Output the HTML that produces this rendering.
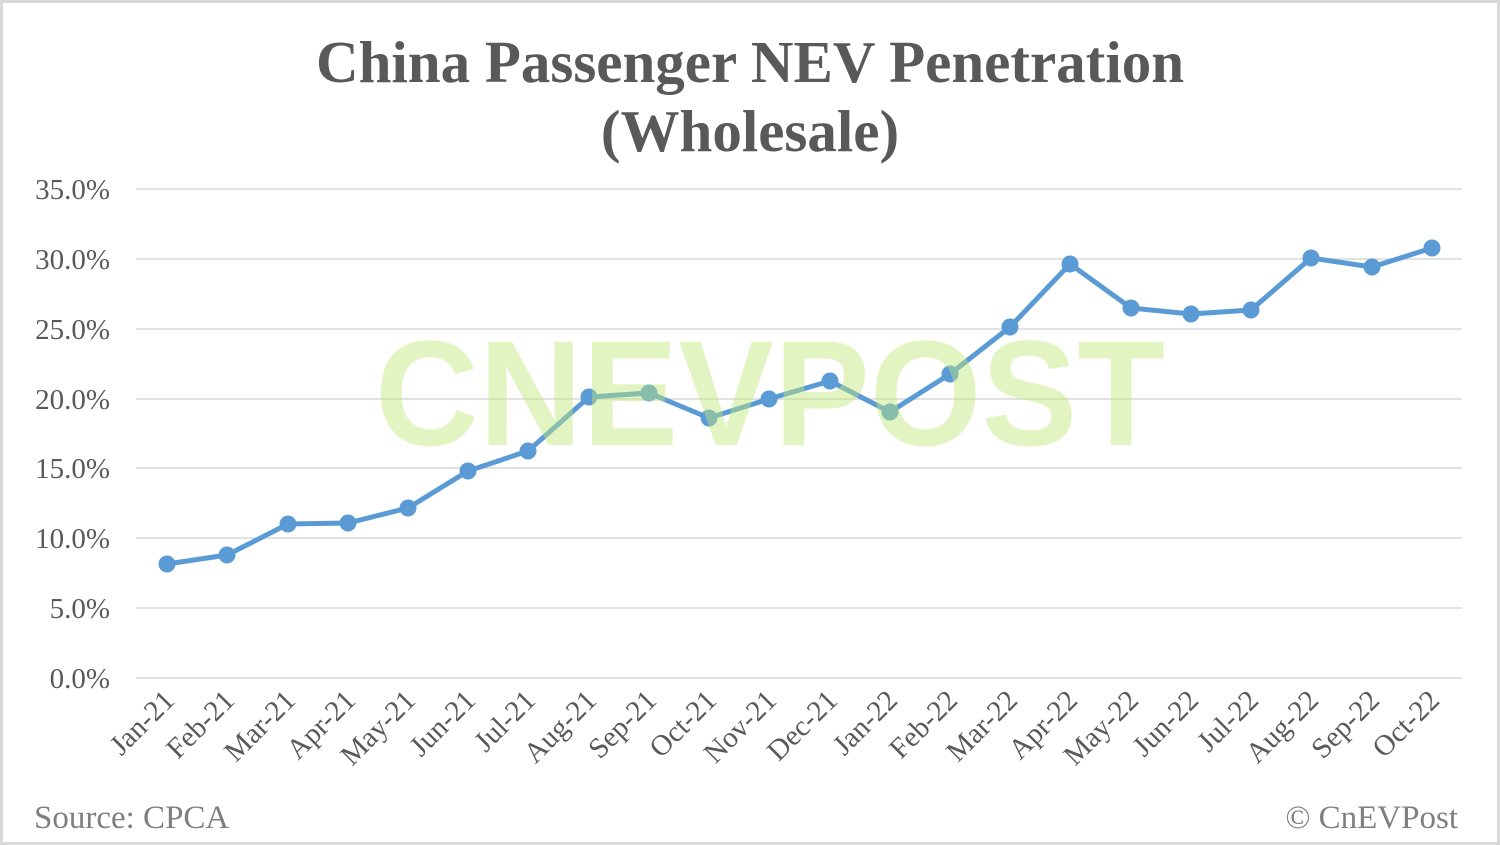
<!DOCTYPE html>
<html><head><style>
html,body{margin:0;padding:0;background:#fff;}
svg{display:block;}
</style></head><body>
<svg width="1500" height="845" viewBox="0 0 1500 845" xmlns="http://www.w3.org/2000/svg" font-family="Liberation Serif, serif">
<rect x="1.5" y="1.5" width="1497" height="842" fill="#fff" stroke="#d9d9d9" stroke-width="3"/>
<text x="750" y="82" text-anchor="middle" font-size="59" font-weight="bold" fill="#595959">China Passenger NEV Penetration</text>
<text x="750" y="151" text-anchor="middle" font-size="59" font-weight="bold" fill="#595959">(Wholesale)</text>
<g stroke="#d9d9d9" stroke-width="1.5">
<line x1="136" x2="1462" y1="189" y2="189"/>
<line x1="136" x2="1462" y1="259" y2="259"/>
<line x1="136" x2="1462" y1="329" y2="329"/>
<line x1="136" x2="1462" y1="399" y2="399"/>
<line x1="136" x2="1462" y1="468" y2="468"/>
<line x1="136" x2="1462" y1="538" y2="538"/>
<line x1="136" x2="1462" y1="608" y2="608"/>
<line x1="136" x2="1462" y1="678" y2="678"/>
</g>
<g font-size="29" fill="#595959" text-anchor="end">
<text x="110" y="199">35.0%</text>
<text x="110" y="269">30.0%</text>
<text x="110" y="339">25.0%</text>
<text x="110" y="409">20.0%</text>
<text x="110" y="478">15.0%</text>
<text x="110" y="548">10.0%</text>
<text x="110" y="618">5.0%</text>
<text x="110" y="688">0.0%</text>
</g>
<polyline fill="none" stroke="#5b9bd5" stroke-width="5" stroke-linejoin="round" points="167,564 227,555 288,524 348,523 408,508 468,471 528,451 589,397 649,393 709,418 769,399 830,381 890,412 950,374 1010,327 1070,264 1131,308 1191,314 1251,310 1311,258 1372,267 1432,248"/>
<g fill="#5b9bd5">
<circle cx="167" cy="564" r="8.5"/><circle cx="227" cy="555" r="8.5"/><circle cx="288" cy="524" r="8.5"/><circle cx="348" cy="523" r="8.5"/><circle cx="408" cy="508" r="8.5"/><circle cx="468" cy="471" r="8.5"/><circle cx="528" cy="451" r="8.5"/><circle cx="589" cy="397" r="8.5"/><circle cx="649" cy="393" r="8.5"/><circle cx="709" cy="418" r="8.5"/><circle cx="769" cy="399" r="8.5"/><circle cx="830" cy="381" r="8.5"/><circle cx="890" cy="412" r="8.5"/><circle cx="950" cy="374" r="8.5"/><circle cx="1010" cy="327" r="8.5"/><circle cx="1070" cy="264" r="8.5"/><circle cx="1131" cy="308" r="8.5"/><circle cx="1191" cy="314" r="8.5"/><circle cx="1251" cy="310" r="8.5"/><circle cx="1311" cy="258" r="8.5"/><circle cx="1372" cy="267" r="8.5"/><circle cx="1432" cy="248" r="8.5"/>
</g>
<text x="770" y="445" text-anchor="middle" font-family="Liberation Sans, sans-serif" font-size="150" font-weight="bold" fill="rgba(190,230,120,0.45)" textLength="790" lengthAdjust="spacingAndGlyphs">CNEVPOST</text>
<g font-size="29" fill="#595959" text-anchor="end">
<text transform="translate(176,702) rotate(-45)">Jan-21</text>
<text transform="translate(236,702) rotate(-45)">Feb-21</text>
<text transform="translate(297,702) rotate(-45)">Mar-21</text>
<text transform="translate(357,702) rotate(-45)">Apr-21</text>
<text transform="translate(417,702) rotate(-45)">May-21</text>
<text transform="translate(477,702) rotate(-45)">Jun-21</text>
<text transform="translate(537,702) rotate(-45)">Jul-21</text>
<text transform="translate(598,702) rotate(-45)">Aug-21</text>
<text transform="translate(658,702) rotate(-45)">Sep-21</text>
<text transform="translate(718,702) rotate(-45)">Oct-21</text>
<text transform="translate(778,702) rotate(-45)">Nov-21</text>
<text transform="translate(839,702) rotate(-45)">Dec-21</text>
<text transform="translate(899,702) rotate(-45)">Jan-22</text>
<text transform="translate(959,702) rotate(-45)">Feb-22</text>
<text transform="translate(1019,702) rotate(-45)">Mar-22</text>
<text transform="translate(1079,702) rotate(-45)">Apr-22</text>
<text transform="translate(1140,702) rotate(-45)">May-22</text>
<text transform="translate(1200,702) rotate(-45)">Jun-22</text>
<text transform="translate(1260,702) rotate(-45)">Jul-22</text>
<text transform="translate(1320,702) rotate(-45)">Aug-22</text>
<text transform="translate(1381,702) rotate(-45)">Sep-22</text>
<text transform="translate(1441,702) rotate(-45)">Oct-22</text>
</g>
<text x="34" y="828" font-size="33" fill="#7f7f7f">Source: CPCA</text>
<text x="1458" y="828" text-anchor="end" font-size="33" fill="#7f7f7f">© CnEVPost</text>
</svg>
</body></html>
